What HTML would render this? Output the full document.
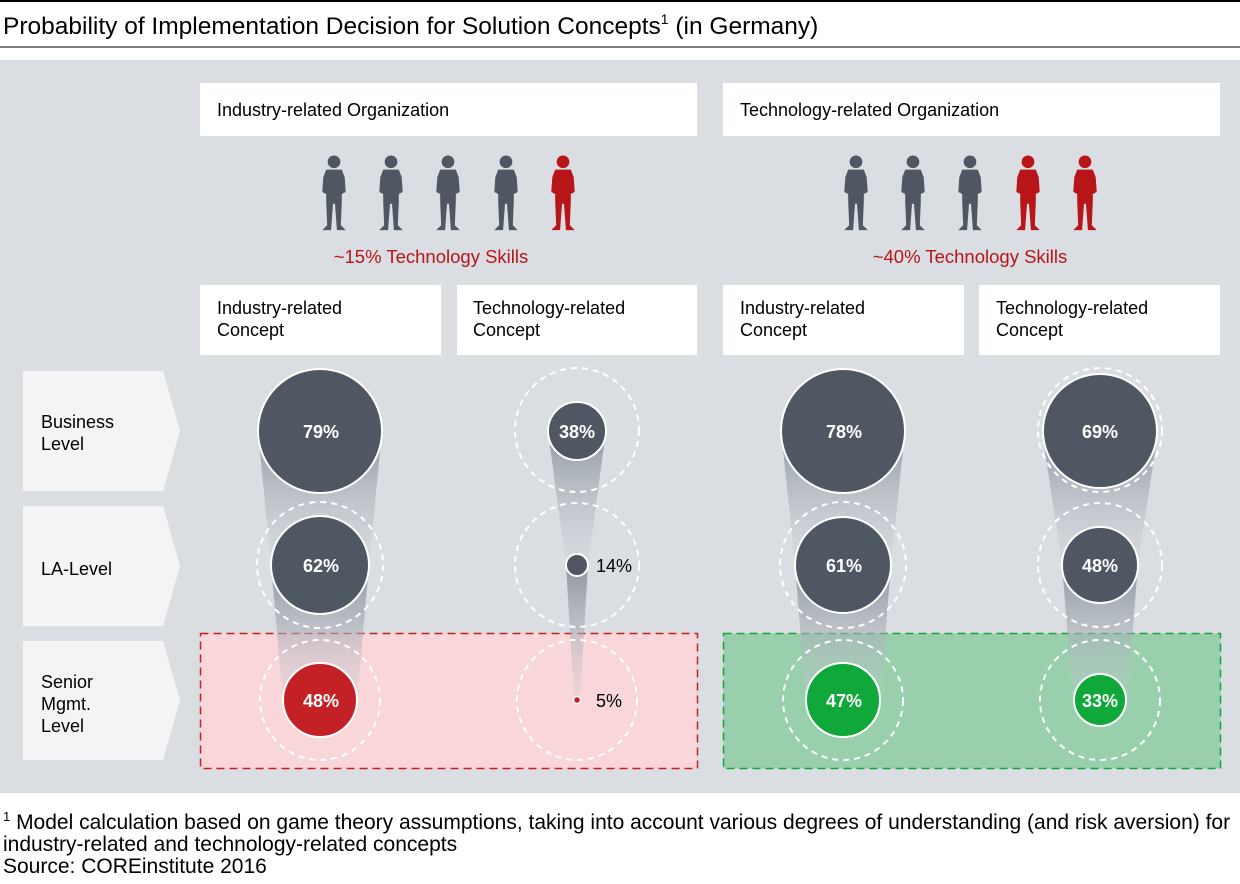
<!DOCTYPE html>
<html><head><meta charset="utf-8"><style>
body{margin:0;background:#fff;width:1240px;height:879px;overflow:hidden;font-family:"Liberation Sans",Arial,sans-serif}
</style></head><body>
<svg width="1240" height="879" viewBox="0 0 1240 879" xmlns="http://www.w3.org/2000/svg" font-family="Liberation Sans, Arial, sans-serif">
<defs>
<linearGradient id="g" x1="0" y1="0" x2="0" y2="1">
<stop offset="0" stop-color="#8a929c" stop-opacity="0.95"/>
<stop offset="1" stop-color="#c8ccd2" stop-opacity="0.2"/>
</linearGradient>
<symbol id="p" viewBox="0 0 28 80">
<circle cx="14" cy="7" r="6.5"/>
<path d="M6 15 H22 L25 23 L26 38 L22 40 L22 48 L21 72 L26 77 L17 77 L15 50 L13 50 L11 77 L2 77 L7 72 L6 48 L6 40 L2 38 L3 23 Z"/>
</symbol>
</defs>
<line x1="0" y1="1" x2="1240" y2="1" stroke="#000" stroke-width="2"/>
<text x="3" y="34" font-size="24.5" fill="#000">Probability of Implementation Decision for Solution Concepts<tspan font-size="14" dy="-10">1</tspan><tspan dy="10"> (in Germany)</tspan></text>
<line x1="0" y1="47" x2="1240" y2="47" stroke="#000" stroke-width="1"/>
<rect x="0" y="60" width="1240" height="733" fill="#dadee3"/>
<g fill="#fff">
<rect x="200" y="83" width="497" height="53"/><rect x="723" y="83" width="497" height="53"/>
<rect x="200" y="285" width="241" height="70"/><rect x="457" y="285" width="240" height="70"/>
<rect x="723" y="285" width="241" height="70"/><rect x="979" y="285" width="241" height="70"/>
</g>
<g font-size="18" fill="#000">
<text x="217" y="116">Industry-related Organization</text>
<text x="740" y="116">Technology-related Organization</text>
<text x="217" y="314">Industry-related</text><text x="217" y="336">Concept</text>
<text x="473" y="314">Technology-related</text><text x="473" y="336">Concept</text>
<text x="740" y="314">Industry-related</text><text x="740" y="336">Concept</text>
<text x="996" y="314">Technology-related</text><text x="996" y="336">Concept</text>
</g>
<g fill="#4f5763">
<use href="#p" x="319" y="155" width="30" height="78"/>
<use href="#p" x="376" y="155" width="30" height="78"/>
<use href="#p" x="433" y="155" width="30" height="78"/>
<use href="#p" x="491" y="155" width="30" height="78"/>
<use href="#p" x="841" y="155" width="30" height="78"/>
<use href="#p" x="898" y="155" width="30" height="78"/>
<use href="#p" x="955" y="155" width="30" height="78"/>
</g>
<g fill="#b71518">
<use href="#p" x="548" y="155" width="30" height="78"/>
<use href="#p" x="1013" y="155" width="30" height="78"/>
<use href="#p" x="1070" y="155" width="30" height="78"/>
</g>
<text x="431" y="263" font-size="18.5" fill="#b71518" text-anchor="middle">~15% Technology Skills</text>
<text x="970" y="263" font-size="18.5" fill="#b71518" text-anchor="middle">~40% Technology Skills</text>
<g fill="#f4f4f4">
<polygon points="23,371 163,371 180,431 163,491 23,491"/>
<polygon points="23,506 163,506 180,566 163,626 23,626"/>
<polygon points="23,641 163,641 180,700 163,760 23,760"/>
</g>
<g font-size="18" fill="#000">
<text x="41" y="428">Business</text><text x="41" y="450">Level</text>
<text x="41" y="575">LA-Level</text>
<text x="41" y="688">Senior</text><text x="41" y="710">Mgmt.</text><text x="41" y="732">Level</text>
</g>
<rect x="200.5" y="633.5" width="497" height="135" fill="#f9d6d9" stroke="#c81e23" stroke-width="1.5" stroke-dasharray="8,5"/>
<rect x="723.5" y="633.5" width="497" height="135" fill="#9acfae" stroke="#10a83a" stroke-width="1.5" stroke-dasharray="8,5"/>
<g fill="url(#g)">
<polygon points="258,431 382,431 369,565 271,565"/>
<polygon points="271,565 369,565 357,700 283,700"/>
<polygon points="548,431 606,431 588,565 566,565"/>
<polygon points="566,565 588,565 580,700 574,700"/>
<polygon points="781,431 905,431 891,565 795,565"/>
<polygon points="795,565 891,565 880,700 806,700"/>
<polygon points="1042,431 1158,431 1138,565 1062,565"/>
<polygon points="1062,565 1138,565 1127,700 1073,700"/>
</g>
<g fill="none" stroke="#fff" stroke-width="2" stroke-dasharray="6,5">
<circle cx="320" cy="565" r="63"/><circle cx="320" cy="700" r="60"/>
<circle cx="577" cy="430" r="62"/><circle cx="577" cy="565" r="62"/><circle cx="577" cy="700" r="60"/>
<circle cx="843" cy="565" r="63"/><circle cx="843" cy="700" r="60"/>
<circle cx="1100" cy="430" r="62"/><circle cx="1100" cy="565" r="62"/><circle cx="1100" cy="700" r="60"/>
</g>
<g stroke="#fff" stroke-width="2">
<circle cx="320" cy="431" r="62" fill="#4f5763"/>
<circle cx="320" cy="565" r="49" fill="#4f5763"/>
<circle cx="320" cy="700" r="37" fill="#c42126"/>
<circle cx="577" cy="431" r="29" fill="#4f5763"/>
<circle cx="577" cy="565" r="11" fill="#4f5763"/>
<circle cx="577" cy="700" r="3.5" fill="#c42126" stroke-width="1.5"/>
<circle cx="843" cy="431" r="62" fill="#4f5763"/>
<circle cx="843" cy="565" r="48" fill="#4f5763"/>
<circle cx="843" cy="700" r="37" fill="#10a83a"/>
<circle cx="1100" cy="431" r="57" fill="#4f5763"/>
<circle cx="1100" cy="565" r="38" fill="#4f5763"/>
<circle cx="1100" cy="700" r="26" fill="#10a83a"/>
</g>
<g font-size="18" font-weight="bold" fill="#fff" text-anchor="middle">
<text x="321" y="438">79%</text><text x="321" y="572">62%</text><text x="321" y="707">48%</text>
<text x="577" y="438">38%</text>
<text x="844" y="438">78%</text><text x="844" y="572">61%</text><text x="844" y="707">47%</text>
<text x="1100" y="438">69%</text><text x="1100" y="572">48%</text><text x="1100" y="707">33%</text>
</g>
<g font-size="18" fill="#000">
<text x="596" y="572">14%</text><text x="596" y="707">5%</text>
</g>
<g font-size="21" fill="#000">
<text x="3" y="829"><tspan font-size="13" dy="-8">1</tspan><tspan dy="8"> Model calculation based on game theory assumptions, taking into account various degrees of understanding (and risk aversion) for</tspan></text>
<text x="3" y="851">industry-related and technology-related concepts</text>
<text x="3" y="873">Source: COREinstitute 2016</text>
</g>
</svg>
</body></html>
